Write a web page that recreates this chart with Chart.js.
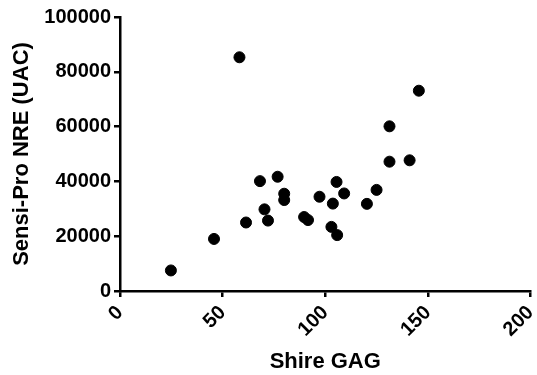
<!DOCTYPE html>
<html>
<head>
<meta charset="utf-8">
<script src="https://cdn.jsdelivr.net/npm/chart.js@4"></script>
<style>
  html, body { margin: 0; padding: 0; background: #fff; }
  #wrap { width: 537px; height: 375px; }
</style>
</head>
<body>
<div id="wrap"><canvas id="chart"></canvas></div>
<script>
// Shire GAG vs Sensi-Pro NRE
const shireGag = [24.8, 45.8, 58.2, 61.4, 68.2, 70.4, 72.1, 76.8, 80.0, 80.0, 89.7, 91.6,
                  97.2, 103.0, 103.7, 105.5, 105.8, 109.2, 120.3, 125.0, 131.3, 131.3, 141.1, 145.6];
const sensiNre = [7500, 19000, 85300, 25000, 40100, 29800, 25700, 41700, 35500, 33200, 27000, 25900,
                  34400, 23400, 31900, 39800, 20400, 35600, 31800, 36900, 60100, 47200, 47700, 73100];

const xTicks = [0, 50, 100, 150, 200];
const yTicks = [0, 20000, 40000, 60000, 80000, 100000];

const points = shireGag.map((x, i) => ({ x: x, y: sensiNre[i] }));

Chart.defaults.font.family = "'Liberation Sans', Arial, sans-serif";
Chart.defaults.font.weight = 'bold';
Chart.defaults.color = '#000';

const ctx = document.getElementById('chart').getContext('2d');
new Chart(ctx, {
    type: 'scatter',
    data: {
        datasets: [{
            data: points,
            backgroundColor: '#000',
            borderColor: '#000',
            pointRadius: 5.5,
            pointHoverRadius: 5.5
        }]
    },
    options: {
        responsive: true,
        maintainAspectRatio: false,
        animation: false,
        layout: { padding: { top: 17, right: 2, left: 0, bottom: 0 } },
        plugins: {
            legend: { display: false },
            tooltip: { enabled: false }
        },
        scales: {
            x: {
                type: 'linear',
                min: 0,
                max: 200,
                afterBuildTicks: (scale) => { scale.ticks = xTicks.map(v => ({ value: v })); },
                afterFit: (scale) => {
                    scale.height = 84;
                    // rotated labels would otherwise shrink the plot on the right
                    scale.paddingLeft = 0;
                    scale.paddingRight = 0;
                },
                ticks: {
                    minRotation: 45,
                    maxRotation: 45,
                    padding: 4,
                    font: { size: 20, weight: 'bold' },
                    color: '#000'
                },
                grid: { drawOnChartArea: false, drawTicks: true, tickLength: 6, color: '#000', lineWidth: 2.5 },
                border: { display: true, color: '#000', width: 2.5 },
                title: {
                    display: true,
                    text: 'Shire GAG',
                    font: { size: 22, weight: 'bold' },
                    color: '#000',
                    padding: { top: 0, bottom: 0 }
                }
            },
            y: {
                type: 'linear',
                min: 0,
                max: 100000,
                afterBuildTicks: (scale) => { scale.ticks = yTicks.map(v => ({ value: v })); },
                afterFit: (scale) => { scale.width = 120; },
                ticks: {
                    padding: 3,
                    font: { size: 20, weight: 'bold' },
                    color: '#000',
                    callback: (v) => String(v)
                },
                grid: { drawOnChartArea: false, drawTicks: true, tickLength: 6, color: '#000', lineWidth: 2.5 },
                border: { display: true, color: '#000', width: 2.5 },
                title: {
                    display: true,
                    text: 'Sensi-Pro NRE (UAC)',
                    font: { size: 22, weight: 'bold' },
                    color: '#000',
                    padding: { top: 9, bottom: 0 }
                }
            }
        }
    }
});
</script>
</body>
</html>
